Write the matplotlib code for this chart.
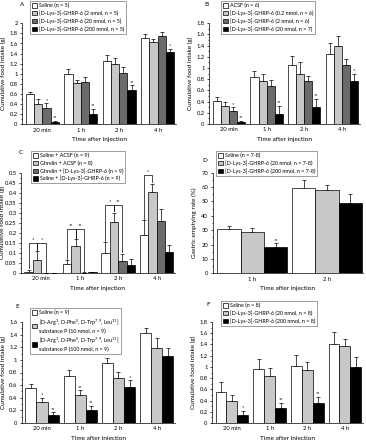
import matplotlib
matplotlib.use("Agg")
import matplotlib.pyplot as plt
from matplotlib.patches import Patch
from matplotlib.ticker import MultipleLocator, FuncFormatter

plt.rcParams['font.family'] = ['Lato', 'DejaVu Sans']
plt.rcParams['mathtext.fontset'] = 'custom'
plt.rcParams['mathtext.rm'] = 'Lato'
plt.rcParams['mathtext.it'] = 'Lato:italic'

# ---- data ----
times4 = ['20 min', '1 h', '2 h', '4 h']
times2 = ['1 h', '2 h']

A_labels = ['Saline (n = 5)', '[D-Lys-3]-GHRP-6 (2 nmol, n = 5)',
            '[D-Lys-3]-GHRP-6 (20 nmol, n = 5)', '[D-Lys-3]-GHRP-6 (200 nmol, n = 5)']
A_mean = [[0.60, 1.00, 1.25, 1.70],
          [0.40, 0.82, 1.19, 1.63],
          [0.33, 0.83, 1.02, 1.74],
          [0.05, 0.21, 0.67, 1.44]]
A_err = [[0.04, 0.09, 0.12, 0.08],
         [0.10, 0.05, 0.12, 0.05],
         [0.09, 0.10, 0.12, 0.08],
         [0.02, 0.10, 0.10, 0.06]]
A_sig = [['', '', '', ''], ['', '', '', ''], ['*', '', '', ''], ['**', '**', '**', '*']]

B_labels = ['ACSF (n = 6)', '[D-Lys-3]-GHRP-6 (0.2 nmol, n = 6)',
            '[D-Lys-3]-GHRP-6 (2 nmol, n = 6)', '[D-Lys-3]-GHRP-6 (20 nmol, n = 7)']
B_mean = [[0.42, 0.84, 1.06, 1.25],
          [0.32, 0.76, 0.90, 1.40],
          [0.23, 0.68, 0.77, 1.05],
          [0.04, 0.18, 0.30, 0.77]]
B_err = [[0.06, 0.11, 0.16, 0.20],
         [0.07, 0.13, 0.20, 0.17],
         [0.07, 0.11, 0.09, 0.12],
         [0.02, 0.15, 0.15, 0.13]]
B_sig = [['', '', '', ''], ['', '', '', ''], ['*', '', '', ''], ['**', '**', '**', '*']]

C_labels = ['Saline + ACSF (n = 9)', 'Ghrelin + ACSF (n = 8)',
            'Ghrelin + [D-Lys-3]-GHRP-6 (n = 9)', 'Saline + [D-Lys-3]-GHRP-6 (n = 9)']
C_mean = [[0.007, 0.045, 0.100, 0.190],
          [0.067, 0.135, 0.255, 0.405],
          [0.000, 0.002, 0.062, 0.260],
          [0.000, 0.004, 0.040, 0.105]]
C_err = [[0.010, 0.020, 0.055, 0.075],
         [0.040, 0.035, 0.045, 0.040],
         [0.000, 0.001, 0.035, 0.060],
         [0.000, 0.002, 0.030, 0.035]]
# brackets: (group, bar from, bar to, height, label)
C_brackets = [(0, 0, 1, 0.15, '*'), (0, 1, 2, 0.15, '*'),
              (1, 0, 1, 0.22, '**'), (1, 1, 2, 0.22, '**'),
              (2, 0, 1, 0.34, '*'), (2, 1, 2, 0.34, '**'),
              (3, 0, 1, 0.49, '*')]

D_labels = ['Saline (n = 7-8)', '[D-Lys-3]-GHRP-6 (20 nmol, n = 7-8)',
            '[D-Lys-3]-GHRP-6 (200 nmol, n = 7-8)']
D_mean = [[31, 59], [28.5, 58], [18, 49]]
D_err = [[2, 6], [3, 3], [3, 6]]
D_sig = [['', ''], ['', ''], ['**', '']]

E_labels = ['Saline (n = 9)',
            '[D-Arg$^1$, D-Phe$^5$, D-Trp$^{7,9}$, Leu$^{11}$]\nsubstance P (10 nmol, n = 9)',
            '[D-Arg$^1$, D-Phe$^5$, D-Trp$^{7,9}$, Leu$^{11}$]\nsubstance P (100 nmol, n = 9)']
E_mean = [[0.55, 0.75, 0.95, 1.42],
          [0.34, 0.45, 0.72, 1.19],
          [0.13, 0.21, 0.57, 1.06]]
E_err = [[0.07, 0.09, 0.08, 0.08],
         [0.06, 0.07, 0.09, 0.16],
         [0.04, 0.06, 0.11, 0.13]]
E_sig = [['', '', '', ''], ['*', '**', '', ''], ['**', '**', '*', '']]

F_labels = ['Saline (n = 8)', '[D-Lys-3]-GHRP-6 (20 nmol, n = 8)',
            '[D-Lys-3]-GHRP-6 (200 nmol, n = 8)']
F_mean = [[0.55, 0.96, 1.01, 1.40],
          [0.40, 0.84, 0.95, 1.38],
          [0.14, 0.26, 0.36, 0.99]]
F_err = [[0.18, 0.18, 0.20, 0.23],
         [0.10, 0.14, 0.13, 0.12],
         [0.08, 0.10, 0.11, 0.18]]
F_sig = [['', '', '', ''], ['', '', '', ''], ['*', '**', '**', '']]

col4 = ['white', '#c8c8c8', '#6b6b6b', 'black']
col3 = ['white', '#c8c8c8', 'black']

W, H = 366, 440
fig = plt.figure(figsize=(W / 100, H / 100), dpi=100)
FS = 4.2


def make_axes(l, r, t, b):
    return fig.add_axes([l / W, 1 - b / H, (r - l) / W, (b - t) / H])


def panel(ax, groups, means, errs, colors, width, ymax, major, minor, ylabel):
    n = len(means)
    for i in range(n):
        xs = [g + (i - (n - 1) / 2) * width for g in range(len(groups))]
        ax.bar(xs, means[i], width, color=colors[i], edgecolor='black', linewidth=0.5, zorder=2)
        ax.errorbar(xs, means[i], yerr=[[0] * len(xs), errs[i]], fmt='none',
                    ecolor='black', elinewidth=0.5, capsize=1.2, capthick=0.5, zorder=1)
    ax.set_xlim(-0.53, len(groups) - 0.52)
    ax.set_ylim(0, ymax)
    ax.set_xticks(range(len(groups)))
    ax.set_xticklabels(groups, fontsize=FS)
    ax.yaxis.set_major_locator(MultipleLocator(major))
    ax.yaxis.set_minor_locator(MultipleLocator(minor))
    ax.yaxis.set_major_formatter(FuncFormatter(lambda v, p: f'{v:g}'))
    ax.tick_params(axis='y', labelsize=FS, length=1.6, width=0.5, pad=1.5)
    ax.tick_params(axis='y', which='minor', length=0.9, width=0.5)
    ax.tick_params(axis='x', length=0, pad=2.5, labelsize=FS)
    for s in ['top', 'right']:
        ax.spines[s].set_visible(False)
    for s in ['left', 'bottom']:
        ax.spines[s].set_linewidth(0.5)
    ax.set_ylabel(ylabel, fontsize=FS + 0.4)
    ax.set_xlabel('Time after injection', fontsize=FS + 0.4)
    ax.xaxis.set_label_coords(0.5, -0.125)
    ax.yaxis.set_label_coords(-0.105, 0.5)
    return width


def stars(ax, means, errs, sig, width):
    n = len(means)
    for i in range(n):
        for g in range(len(means[i])):
            if sig[i][g]:
                x = g + (i - (n - 1) / 2) * width
                ax.annotate(sig[i][g], (x, means[i][g] + errs[i][g]), xytext=(0, 0.3),
                            textcoords='offset points', ha='center', va='bottom', fontsize=3.8)


def legend(ax, labels, colors, x0, y0):
    handles = [Patch(facecolor=c, edgecolor='black', linewidth=0.5) for c in colors]
    leg = ax.legend(handles, labels, loc='upper left', bbox_to_anchor=(x0 / W, 1 - y0 / H),
                    bbox_transform=fig.transFigure, fontsize=3.9, frameon=True, fancybox=False,
                    handlelength=0.9, handleheight=0.9, handletextpad=0.35, labelspacing=0.4,
                    borderpad=0.35, borderaxespad=0)
    leg.get_frame().set_linewidth(0.5)
    leg.get_frame().set_edgecolor('#555555')


def tag(letter, x, y):
    fig.text(x / W, 1 - y / H, letter, fontsize=FS + 0.3, ha='left', va='top')


ylab = 'Cumulative food intake (g)'

# A
axA = make_axes(22, 176, 23.3, 124.3)
w = panel(axA, times4, A_mean, A_err, col4, 0.215, 2.0, 0.2, 0.1, ylab)
stars(axA, A_mean, A_err, A_sig, w)
legend(axA, A_labels, col4, 30, 1)
tag('A', 20, 2)

# B
axB = make_axes(209, 360, 23.3, 124)
w = panel(axB, times4, B_mean, B_err, col4, 0.215, 1.8, 0.2, 0.1, ylab)
stars(axB, B_mean, B_err, B_sig, w)
legend(axB, B_labels, col4, 221, 1)
tag('B', 204, 2)

# C
axC = make_axes(21, 175, 172.5, 273)
w = panel(axC, times4, C_mean, C_err, col4, 0.22, 0.5, 0.05, 0.025, ylab)
for g, i, j, h, lab in C_brackets:
    xi = g + (i - 1.5) * w
    xj = g + (j - 1.5) * w
    yi = C_mean[i][g] + C_err[i][g] + 0.006
    yj = C_mean[j][g] + C_err[j][g] + 0.006
    axC.plot([xi, xi, xj, xj], [yi, h, h, yj], color='black', lw=0.5, zorder=3)
    axC.text((xi + xj) / 2, h + 0.004, lab, ha='center', va='bottom', fontsize=3.8)
legend(axC, C_labels, col4, 31, 151)
tag('C', 19, 150)

# D
axD = make_axes(212.5, 363, 172.5, 273.3)
w = panel(axD, times2, D_mean, D_err, col3, 0.312, 70, 10, 5, 'Gastric emptying rate (%)')
stars(axD, D_mean, D_err, D_sig, w)
legend(axD, D_labels, col3, 216, 151)
tag('D', 202, 158)

# E
axE = make_axes(21.7, 175, 322, 423)
w = panel(axE, times4, E_mean, E_err, col3, 0.29, 1.6, 0.2, 0.1, ylab)
stars(axE, E_mean, E_err, E_sig, w)
legend(axE, E_labels, col3, 30, 308)
tag('E', 15, 304)

# F
axF = make_axes(212, 363, 322, 423)
w = panel(axF, times4, F_mean, F_err, col3, 0.29, 1.8, 0.2, 0.1, ylab)
stars(axF, F_mean, F_err, F_sig, w)
legend(axF, F_labels, col3, 221, 301)
tag('F', 206, 302)

fig.savefig('out.png', dpi=100)
